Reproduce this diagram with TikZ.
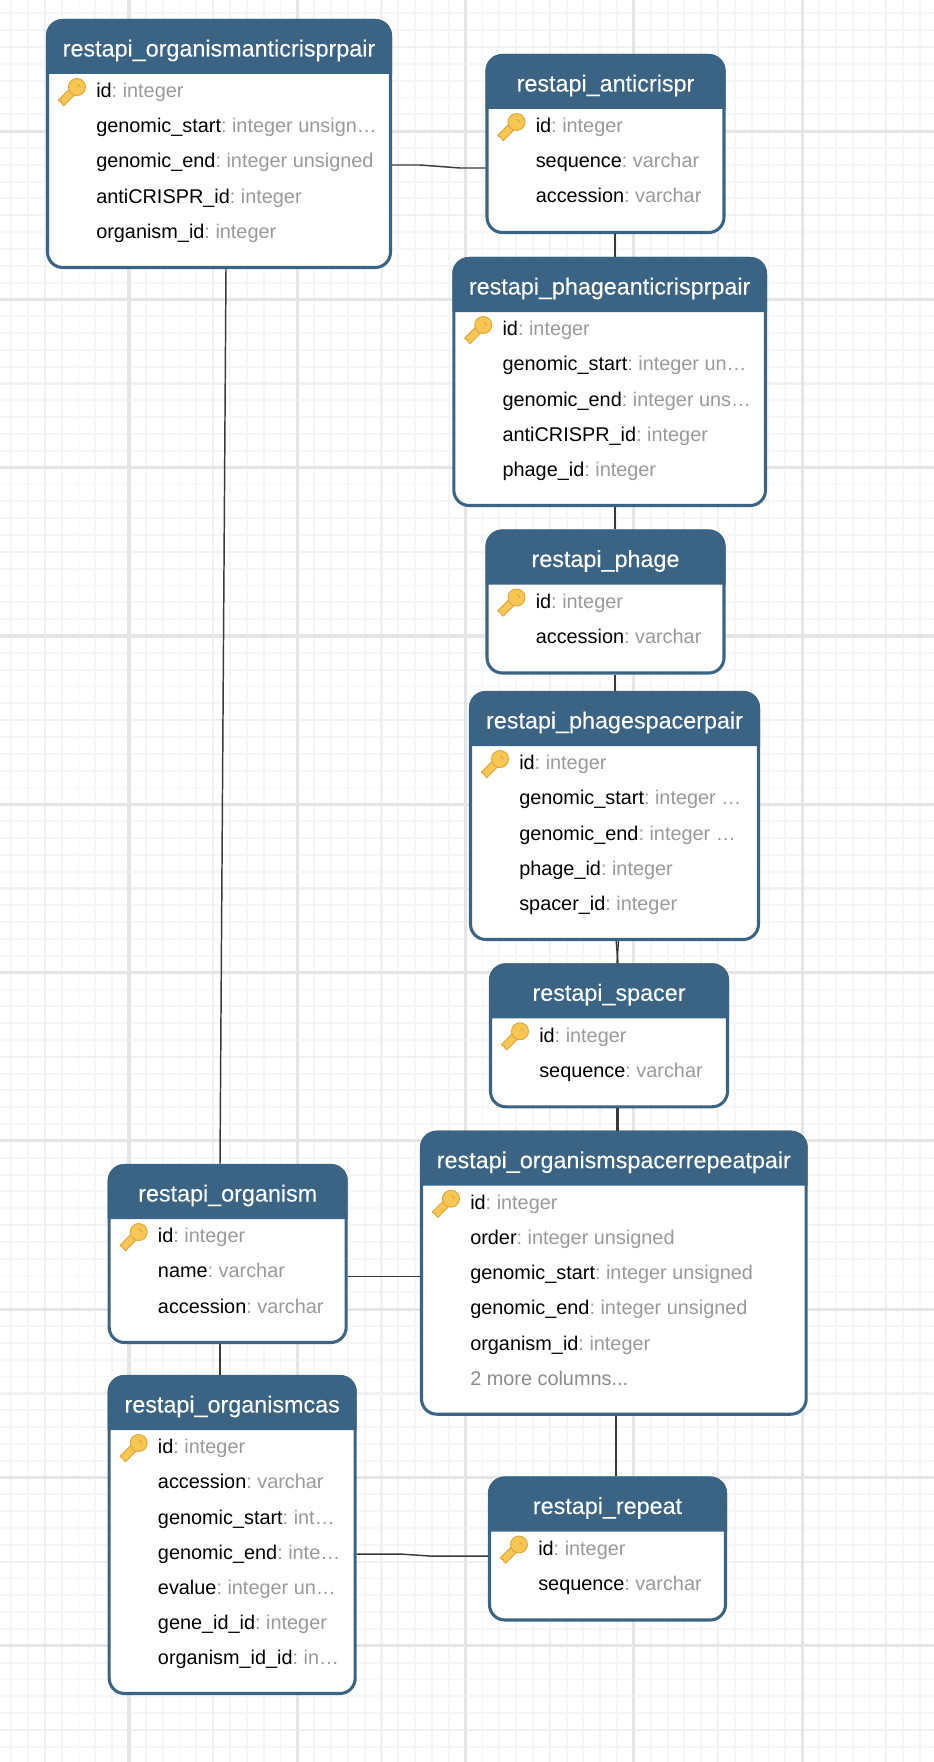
\documentclass[tikz,border=0pt]{standalone}
\usepackage{fontspec}
\setmainfont{Liberation Sans}
\newfontfamily\titlefont[FakeBold=0.15]{Liberation Sans}
\frenchspacing
\definecolor{hdrblue}{HTML}{3B6484}
\definecolor{typegrey}{HTML}{9A9A9A}
\definecolor{keyfill}{HTML}{F8C653}
\definecolor{keyedge}{HTML}{DDA63A}
\definecolor{connline}{HTML}{3A3A3A}
\newcommand{\fld}[2]{\textcolor{black}{#1}\textcolor{typegrey}{: #2}}
\newcommand{\more}[1]{\textcolor{typegrey!90!black}{#1}}
\tikzset{
  tablebox/.style={draw=hdrblue,fill=white,line width=2.3pt,rounded corners=11.5pt,inner sep=0pt,outer sep=1.15pt},
  titletext/.style={anchor=base,inner sep=0pt,text=white,font=\titlefont\fontsize{17.5pt}{20pt}\selectfont},
  rowtext/.style={anchor=base west,inner sep=0pt,font=\fontsize{14.9pt}{18pt}\selectfont},
  conn/.style={draw=connline,line width=1.1pt},
  minorgrid/.style={draw=black!3.5,line width=1.4pt},
  medgrid/.style={draw=black!5.5,line width=1.7pt},
  majorgrid/.style={draw=black!10,line width=2.3pt},
}
% \tbl{name}{left}{right}{top}{rows}{title}{row list}
\newcommand{\tbl}[7]{%
  \pgfmathsetmacro{\tcx}{(#2+#3)/2}%
  \pgfmathsetmacro{\thh}{75+35*#5}%
  \pgfmathsetmacro{\tcy}{#4+\thh/2}%
  \pgfmathsetmacro{\thb}{#4+55}%
  \pgfmathsetmacro{\ttb}{#4+37.5}%
  \node[tablebox,minimum width={(#3-#2-3)*0.75pt},minimum height={(\thh-3)*0.75pt}] (#1) at (\tcx,\tcy) {};
  \fill[hdrblue] (#2,\thb) [rounded corners=12.5pt] -- (#2,#4) -- (#3,#4) [sharp corners] -- (#3,\thb) -- cycle;
  \node[titletext] (#1-title) at (\tcx,\ttb) {#6};
  \begin{scope}[shift={(#2,#4+73)}]
    \draw[draw=keyedge,fill=keyfill,line width=0.7pt,line join=round] (23.3,-2.7) -- (12.3,8.3) -- (14,10) -- (15.5,9.5) -- (15.5,11.5) -- (17.7,13.7) -- (28.7,2.7) -- cycle;
    \draw[draw=keyedge,fill=keyfill,line width=0.7pt] (31,-5) circle [radius=8.5];
    \draw[draw=keyedge,line width=0.6pt] (31.5,-8) -- (34.5,-5);
  \end{scope}
  \foreach \rowtxt [count=\ri from 0] in {#7} {
    \pgfmathsetmacro{\rb}{#4+78.7+35.15*\ri}
    \node[rowtext] (#1-\ri) at (#2+50,\rb) {\rowtxt};
  }
}
\begin{document}
\begin{tikzpicture}[x=0.75pt,y=-0.75pt]
\useasboundingbox (0,0) rectangle (934,1762);
\fill[white] (0,0) rectangle (934,1762);
% grid
\foreach \k in {-7,...,48} \draw[minorgrid] (129+\k*16.83,0) -- (129+\k*16.83,1762);
\foreach \k in {-38,...,67} \draw[minorgrid] (0,636+\k*16.83) -- (934,636+\k*16.83);
\foreach \k in {-5,0,...,45} \draw[medgrid] (129+\k*16.83,0) -- (129+\k*16.83,1762);
\foreach \k in {-35,-30,...,65} \draw[medgrid] (0,636+\k*16.83) -- (934,636+\k*16.83);
\foreach \k in {0,10,...,40} \draw[majorgrid] (129+\k*16.83,0) -- (129+\k*16.83,1762);
\foreach \k in {-30,-20,...,60} \draw[majorgrid] (0,636+\k*16.83) -- (934,636+\k*16.83);
% tables
\tbl{oap}{46}{392}{19}{5}{restapi\_organismanticrisprpair}{\fld{id}{integer},\fld{genomic\_start}{integer unsign…},\fld{genomic\_end}{integer unsigned},\fld{antiCRISPR\_id}{integer},\fld{organism\_id}{integer}}
\tbl{ac}{485.5}{725.5}{54}{3}{restapi\_anticrispr}{\fld{id}{integer},\fld{sequence}{varchar},\fld{accession}{varchar}}
\tbl{pap}{452.3}{767}{257}{5}{restapi\_phageanticrisprpair}{\fld{id}{integer},\fld{genomic\_start}{integer un…},\fld{genomic\_end}{integer uns…},\fld{antiCRISPR\_id}{integer},\fld{phage\_id}{integer}}
\tbl{ph}{485.5}{725.5}{529.5}{2}{restapi\_phage}{\fld{id}{integer},\fld{accession}{varchar}}
\tbl{psp}{469}{760}{691}{5}{restapi\_phagespacerpair}{\fld{id}{integer},\fld{genomic\_start}{integer …},\fld{genomic\_end}{integer …},\fld{phage\_id}{integer},\fld{spacer\_id}{integer}}
\tbl{sp}{489}{729}{963.3}{2}{restapi\_spacer}{\fld{id}{integer},\fld{sequence}{varchar}}
\tbl{ospr}{420}{807.7}{1130.7}{6}{restapi\_organismspacerrepeatpair}{\fld{id}{integer},\fld{order}{integer unsigned},\fld{genomic\_start}{integer unsigned},\fld{genomic\_end}{integer unsigned},\fld{organism\_id}{integer},\more{2 more columns...}}
\tbl{org}{107.7}{347.7}{1164}{3}{restapi\_organism}{\fld{id}{integer},\fld{name}{varchar},\fld{accession}{varchar}}
\tbl{cas}{107.7}{356.7}{1375}{7}{restapi\_organismcas}{\fld{id}{integer},\fld{accession}{varchar},\fld{genomic\_start}{int…},\fld{genomic\_end}{inte…},\fld{evalue}{integer un…},\fld{gene\_id\_id}{integer},\fld{organism\_id\_id}{in…}}
\tbl{rep}{488}{727}{1476.5}{2}{restapi\_repeat}{\fld{id}{integer},\fld{sequence}{varchar}}
% connectors
\draw[conn] (oap.east |- 0,165) -- (420,165) -- (460,168) -- (ac.west |- 0,168);
\draw[conn] (226,0 |- oap.south) -- (220,0 |- org.north);
\draw[conn] (615,0 |- ac.south) -- (615,0 |- pap.north);
\draw[conn] (615,0 |- pap.south) -- (615,0 |- ph.north);
\draw[conn] (615,0 |- ph.south) -- (615,0 |- psp.north);
\draw[conn] (616.2,0 |- psp.south) -- (618,0 |- sp.north);
\draw[conn] (618.4,0 |- psp.south) -- (617,0 |- sp.north);
\draw[conn] (616.8,0 |- sp.south) -- (616.8,0 |- ospr.north);
\draw[conn] (618,0 |- sp.south) -- (618,0 |- ospr.north);
\draw[conn] (org.east |- 0,1276.7) -- (ospr.west |- 0,1276.7);
\draw[conn] (220,0 |- org.south) -- (220,0 |- cas.north);
\draw[conn] (cas.east |- 0,1554) -- (400,1554) -- (430,1556) -- (rep.west |- 0,1556);
\draw[conn] (616,0 |- ospr.south) -- (616,0 |- rep.north);
\end{tikzpicture}
\end{document}
